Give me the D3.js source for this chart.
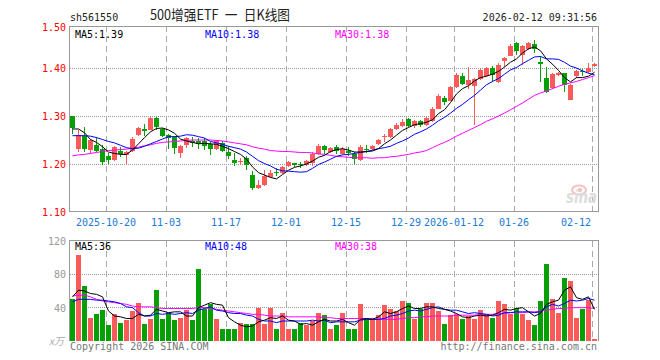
<!DOCTYPE html>
<html>
<head>
<meta charset="utf-8">
<script src="https://cdn.jsdelivr.net/npm/d3@7"></script>
<style>
  body { margin: 0; background: #fff; }
  svg { display: block; }
</style>
</head>
<body>
<div id="chart"></div>
<script>
// trading days shown in the chart
const dates = [
  "2025-10-10","2025-10-13","2025-10-14","2025-10-15","2025-10-16","2025-10-17",
  "2025-10-20","2025-10-21","2025-10-22","2025-10-23","2025-10-24",
  "2025-10-27","2025-10-28","2025-10-29","2025-10-30","2025-10-31",
  "2025-11-03","2025-11-04","2025-11-05","2025-11-06","2025-11-07",
  "2025-11-10","2025-11-11","2025-11-12","2025-11-13","2025-11-14",
  "2025-11-17","2025-11-18","2025-11-19","2025-11-20","2025-11-21",
  "2025-11-24","2025-11-25","2025-11-26","2025-11-27","2025-11-28",
  "2025-12-01","2025-12-02","2025-12-03","2025-12-04","2025-12-05",
  "2025-12-08","2025-12-09","2025-12-10","2025-12-11","2025-12-12",
  "2025-12-15","2025-12-16","2025-12-17","2025-12-18","2025-12-19",
  "2025-12-22","2025-12-23","2025-12-24","2025-12-25","2025-12-26",
  "2025-12-29","2025-12-30","2025-12-31",
  "2026-01-05","2026-01-06","2026-01-07","2026-01-08","2026-01-09",
  "2026-01-12","2026-01-13","2026-01-14","2026-01-15","2026-01-16",
  "2026-01-19","2026-01-20","2026-01-21","2026-01-22","2026-01-23",
  "2026-01-26","2026-01-27","2026-01-28","2026-01-29","2026-01-30",
  "2026-02-02","2026-02-03","2026-02-04","2026-02-05","2026-02-06",
  "2026-02-09","2026-02-10","2026-02-11","2026-02-12"
];

const open = [1.299,1.231,1.259,1.230,1.239,1.232,1.216,1.209,1.228,1.219,
  1.228,1.260,1.273,1.271,1.296,1.273,1.260,1.256,1.223,1.240,
  1.247,1.248,1.248,1.242,1.231,1.244,1.226,1.209,1.204,1.213,
  1.178,1.149,1.157,1.173,1.184,1.182,1.196,1.202,1.201,1.198,
  1.202,1.221,1.238,1.226,1.235,1.221,1.228,1.221,1.208,1.232,
  1.231,1.242,1.256,1.256,1.273,1.280,1.294,1.280,1.290,1.282,
  1.289,1.315,1.337,1.332,1.360,1.383,1.365,1.363,1.377,1.384,
  1.400,1.370,1.414,1.425,1.452,1.428,1.440,1.450,1.412,1.379,
  1.358,1.385,1.389,1.334,1.383,1.394,1.391,1.405];
const high = [1.301,1.270,1.277,1.252,1.256,1.240,1.222,1.238,1.235,1.228,
  1.257,1.278,1.284,1.298,1.298,1.276,1.262,1.259,1.240,1.257,
  1.257,1.255,1.255,1.245,1.250,1.247,1.237,1.223,1.213,1.217,
  1.186,1.167,1.188,1.188,1.192,1.196,1.207,1.203,1.205,1.208,
  1.226,1.241,1.240,1.236,1.240,1.235,1.235,1.226,1.240,1.240,
  1.240,1.252,1.263,1.275,1.285,1.294,1.296,1.292,1.292,1.298,
  1.318,1.345,1.342,1.363,1.390,1.389,1.402,1.380,1.397,1.402,
  1.405,1.410,1.423,1.449,1.455,1.447,1.454,1.459,1.424,1.403,
  1.390,1.391,1.390,1.366,1.395,1.398,1.410,1.410];
const low = [1.262,1.226,1.226,1.222,1.224,1.197,1.201,1.207,1.214,1.199,
  1.226,1.258,1.258,1.270,1.270,1.256,1.231,1.221,1.212,1.233,
  1.236,1.232,1.230,1.219,1.229,1.226,1.211,1.195,1.197,1.188,
  1.146,1.147,1.155,1.171,1.176,1.180,1.193,1.193,1.192,1.195,
  1.195,1.219,1.220,1.222,1.221,1.218,1.217,1.199,1.206,1.223,
  1.229,1.240,1.246,1.254,1.271,1.278,1.277,1.274,1.278,1.279,
  1.288,1.314,1.323,1.331,1.358,1.365,1.356,1.281,1.375,1.381,
  1.370,1.368,1.403,1.424,1.428,1.407,1.437,1.431,1.370,1.348,
  1.356,1.383,1.350,1.333,1.380,1.384,1.389,1.402];
const close = [1.275,1.261,1.231,1.250,1.228,1.205,1.209,1.235,1.221,1.226,
  1.253,1.276,1.269,1.296,1.278,1.259,1.255,1.233,1.237,1.254,
  1.244,1.242,1.237,1.232,1.248,1.228,1.217,1.203,1.206,1.197,
  1.149,1.157,1.174,1.182,1.181,1.193,1.205,1.198,1.198,1.206,
  1.221,1.238,1.229,1.234,1.227,1.231,1.223,1.210,1.235,1.230,
  1.238,1.249,1.258,1.273,1.281,1.287,1.279,1.289,1.282,1.296,
  1.315,1.341,1.330,1.360,1.385,1.367,1.375,1.377,1.395,1.400,
  1.386,1.407,1.421,1.446,1.435,1.445,1.452,1.440,1.409,1.351,
  1.388,1.389,1.365,1.364,1.393,1.391,1.401,1.408];

// moving averages as drawn on the chart
const ma5 = [1.273,1.273,1.265,1.251,1.245,1.236,1.225,1.222,1.220,1.220,
  1.229,1.242,1.255,1.267,1.274,1.275,1.271,1.264,1.252,1.248,
  1.245,1.242,1.243,1.242,1.241,1.237,1.232,1.226,1.220,1.210,
  1.194,1.182,1.177,1.172,1.169,1.178,1.187,1.193,1.196,1.200,
  1.206,1.214,1.218,1.226,1.230,1.232,1.229,1.225,1.225,1.226,
  1.227,1.232,1.242,1.250,1.260,1.270,1.276,1.282,1.284,1.287,
  1.292,1.305,1.313,1.328,1.346,1.357,1.363,1.373,1.380,1.383,
  1.387,1.393,1.402,1.412,1.419,1.431,1.440,1.444,1.436,1.419,
  1.408,1.395,1.380,1.371,1.380,1.380,1.383,1.391];
const ma10 = [1.259,1.259,1.259,1.258,1.255,1.251,1.247,1.244,1.239,1.234,
  1.232,1.233,1.237,1.242,1.247,1.252,1.257,1.257,1.258,1.261,
  1.260,1.257,1.254,1.247,1.244,1.241,1.237,1.234,1.231,1.225,
  1.216,1.207,1.201,1.196,1.189,1.186,1.185,1.184,1.183,1.184,
  1.191,1.199,1.204,1.210,1.216,1.219,1.220,1.222,1.224,1.226,
  1.229,1.232,1.234,1.237,1.243,1.248,1.254,1.262,1.267,1.273,
  1.281,1.290,1.297,1.306,1.316,1.324,1.334,1.343,1.354,1.365,
  1.372,1.378,1.387,1.396,1.401,1.409,1.416,1.423,1.424,1.419,
  1.419,1.418,1.412,1.404,1.400,1.394,1.389,1.386];
const ma30 = [1.217,1.219,1.220,1.222,1.224,1.226,1.228,1.229,1.230,1.231,
  1.233,1.235,1.238,1.240,1.243,1.245,1.246,1.247,1.248,1.249,
  1.250,1.250,1.250,1.250,1.249,1.248,1.246,1.244,1.242,1.240,
  1.236,1.233,1.231,1.228,1.227,1.226,1.226,1.225,1.224,1.224,
  1.223,1.221,1.220,1.218,1.216,1.215,1.214,1.213,1.213,1.213,
  1.212,1.213,1.213,1.215,1.216,1.218,1.220,1.223,1.225,1.228,
  1.234,1.240,1.245,1.251,1.258,1.264,1.270,1.276,1.282,1.289,
  1.294,1.300,1.306,1.313,1.320,1.327,1.335,1.343,1.348,1.352,
  1.357,1.362,1.366,1.369,1.372,1.376,1.380,1.384];

// volume, in 万 shares
const volume = [50,103,66,28,33,37,19,32,22,25,
  36,46,20,27,61,27,34,25,28,37,
  25,87,39,44,27,15,15,14,22,20,
  20,40,21,40,15,34,15,14,22,19,
  24,34,31,14,19,34,14,15,45,26,
  28,31,43,39,36,48,46,26,39,46,
  46,36,20,31,33,27,30,27,37,31,
  28,48,45,33,40,33,25,19,48,93,
  51,34,76,72,28,39,49,2];
const vma5 = [53,61,60,57,56,53,36,30,29,27,
  27,32,30,31,38,36,34,35,35,30,
  30,40,43,46,44,43,28,23,19,17,
  18,23,25,28,27,30,25,24,20,21,
  19,23,26,24,24,26,22,19,26,27,
  26,29,35,33,35,39,42,39,39,41,
  41,39,38,36,33,29,28,30,31,30,
  31,34,38,37,39,40,35,30,33,44,
  47,49,61,65,52,50,53,38];
const vma10 = [47,50,50,50,49,49,48,47,45,41,
  40,34,30,30,33,32,33,32,33,34,
  33,37,39,41,37,36,34,33,33,31,
  30,26,24,24,22,24,24,24,24,24,
  25,24,25,22,23,23,23,23,25,26,
  26,26,27,30,31,33,36,37,36,38,
  40,41,38,37,37,35,33,34,33,32,
  30,31,34,34,35,35,35,34,35,41,
  44,42,45,49,48,49,51,49];
const vma30 = [54,55,55,53,50,48,47,46,45,44,
  42,41,41,41,40,39,39,39,39,39,
  39,40,40,39,38,37,36,35,34,33,
  32,32,31,30,30,30,29,29,29,29,
  29,29,28,28,27,27,27,27,27,27,
  26,26,26,26,26,27,28,28,29,29,
  30,30,30,30,31,31,31,31,32,32,
  32,33,33,34,34,34,35,35,36,37,
  38,39,39,40,40,40,40,39];

const priceTicks = [1.50, 1.40, 1.30, 1.20, 1.10];
const volTicks = [120, 80, 40];
const tickDates = ["2025-10-20","2025-11-03","2025-11-17","2025-12-01","2025-12-15",
  "2025-12-29","2026-01-12","2026-01-26","2026-02-12"];
const tickLabels = ["2025-10-20","11-03","11-17","12-01","12-15","12-29","2026-01-12","01-26","02-12"];

const width = 660, height = 360;
const plotLeft = 70, plotRight = 598;
const plotTop = 26, plotBottom = 211.5;
const vTop = 241, vBottom = 341;

const RED = "#fa5a5a", GREEN = "#06a006";
const mono = "'DejaVu Sans Mono', 'Liberation Mono', monospace";

const svg = d3.select("#chart").append("svg")
  .attr("width", width).attr("height", height)
  .style("background", "#fff");

const x = d3.scaleBand().domain(dates).range([plotLeft, plotRight]);
const y = d3.scaleLinear().domain([1.10, 1.50]).range([212, 20]);
const yv = d3.scaleLinear().domain([0, 120]).range([vBottom, vTop]);
const cx = d => x(d) + 2.5;
const snap = v => Math.floor(v) + 0.5;

function txt(x0, y0, s, color, anchor) {
  return svg.append("text").attr("x", x0).attr("y", y0)
    .attr("fill", color).attr("text-anchor", anchor || "start")
    .style("font-family", mono).style("font-size", "10px").text(s);
}

// grids
const grid = svg.append("g").attr("shape-rendering", "crispEdges");
tickDates.forEach(d => {
  const gx = snap(x(d));
  grid.append("line").attr("x1", gx).attr("x2", gx).attr("y1", plotTop).attr("y2", plotBottom)
    .attr("stroke", "#aaa").attr("stroke-dasharray", "6,4");
  grid.append("line").attr("x1", gx).attr("x2", gx).attr("y1", vTop).attr("y2", vBottom)
    .attr("stroke", "#aaa").attr("stroke-dasharray", "6,4");
});
priceTicks.filter(v => v < 1.5 && v > 1.1).forEach(v => {
  grid.append("line").attr("x1", plotLeft).attr("x2", plotRight)
    .attr("y1", snap(y(v))).attr("y2", snap(y(v)))
    .attr("stroke", "#999").attr("stroke-dasharray", "1,1");
});
volTicks.filter(v => v < 120).forEach(v => {
  grid.append("line").attr("x1", plotLeft).attr("x2", plotRight)
    .attr("y1", snap(yv(v))).attr("y2", snap(yv(v)))
    .attr("stroke", "#999").attr("stroke-dasharray", "1,1");
});

// frames
grid.append("rect").attr("x", plotLeft - 0.5).attr("y", plotTop + 0.5)
  .attr("width", plotRight - plotLeft + 1).attr("height", plotBottom - plotTop - 0.5)
  .attr("fill", "none").attr("stroke", "#999");
grid.append("path")
  .attr("d", `M${plotLeft - 0.5},${vBottom} V${vTop - 0.5} H${plotRight + 0.5} V${vBottom}`)
  .attr("fill", "none").attr("stroke", "#999");

// sina watermark
const logo = svg.append("g").attr("transform", "translate(566,184)");
logo.append("ellipse").attr("cx", 13).attr("cy", 6).attr("rx", 7).attr("ry", 4.5)
  .attr("fill", "none").attr("stroke", "#f3c2c2").attr("stroke-width", 2);
logo.append("circle").attr("cx", 14).attr("cy", 6).attr("r", 2.2).attr("fill", "#f3c2c2");
logo.append("text").attr("x", 0).attr("y", 19).attr("fill", "#dcdcdc")
  .attr("textLength", 31).attr("lengthAdjust", "spacingAndGlyphs")
  .style("font-family", "'DejaVu Sans', sans-serif").style("font-size", "17px")
  .style("font-style", "italic").style("font-weight", "bold").text("sina");

// candles
const candles = svg.append("g").attr("shape-rendering", "crispEdges");
dates.forEach((d, i) => {
  const up = close[i] >= open[i];
  const c = up ? RED : GREEN;
  candles.append("line").attr("x1", cx(d)).attr("x2", cx(d))
    .attr("y1", y(high[i])).attr("y2", y(low[i])).attr("stroke", c);
  const yt = y(Math.max(open[i], close[i]));
  const yb = y(Math.min(open[i], close[i]));
  candles.append("rect").attr("x", x(d)).attr("width", 5)
    .attr("y", yt).attr("height", Math.max(1, yb - yt)).attr("fill", c);
});

// volume bars
const vbars = svg.append("g").attr("shape-rendering", "crispEdges");
dates.forEach((d, i) => {
  vbars.append("rect").attr("x", x(d)).attr("width", 5)
    .attr("y", yv(volume[i])).attr("height", Math.max(1, vBottom - yv(volume[i])))
    .attr("fill", close[i] >= open[i] ? RED : GREEN);
});

// MA lines
const priceLine = d3.line().x((v, i) => cx(dates[i])).y(v => y(v));
const volLine = d3.line().x((v, i) => cx(dates[i])).y(v => yv(v));
[[ma30, "#ff00ff"], [ma10, "#0000ff"], [ma5, "#000"]].forEach(([s, c]) => {
  svg.append("path").datum(s).attr("d", priceLine).attr("fill", "none")
    .attr("stroke", c).attr("stroke-width", 1);
});
[[vma30, "#ff00ff"], [vma10, "#0000ff"], [vma5, "#000"]].forEach(([s, c]) => {
  svg.append("path").datum(s).attr("d", volLine).attr("fill", "none")
    .attr("stroke", c).attr("stroke-width", 1);
});

// header
txt(70, 20.5, "sh561550", "#222");
svg.append("text").attr("x", 150).attr("y", 20).attr("fill", "#222")
  .attr("textLength", 140).attr("lengthAdjust", "spacingAndGlyphs")
  .style("font-family", "'Noto Sans CJK SC', sans-serif").style("font-size", "14px")
  .text("500增强ETF\u2002一\u2002日K线图");
txt(597, 20.5, "2026-02-12 09:31:56", "#222", "end");

// MA labels
txt(75, 37.5, "MA5:1.39", "#000");
txt(205, 37.5, "MA10:1.38", "#0000ff");
txt(335, 37.5, "MA30:1.38", "#ff00ff");
txt(75, 250, "MA5:36", "#000");
txt(205, 250, "MA10:48", "#0000ff");
txt(335, 250, "MA30:38", "#ff00ff");

// y labels
priceTicks.forEach(v => {
  txt(66, Math.max(31, y(v) + 4), v.toFixed(2), "#f00", "end");
});
volTicks.forEach(v => {
  txt(66, yv(v) + 4, String(v), "#999", "end");
});
svg.append("text").attr("x", 49).attr("y", 345).attr("fill", "#aaa")
  .style("font-family", "'Noto Sans CJK SC', sans-serif").style("font-size", "10px")
  .style("font-style", "italic")
  .text("x万");

// date labels
tickDates.forEach((d, i) => {
  const last = i === tickDates.length - 1;
  txt(last ? 591 : x(d), 225.5, tickLabels[i], "#1a7ad6", last ? "end" : "middle");
});

// footer
txt(70, 349.5, "Copyright 2026 SINA.COM", "#777");
txt(597, 349.5, "http://finance.sina.com.cn", "#777", "end");
</script>
</body>
</html>
